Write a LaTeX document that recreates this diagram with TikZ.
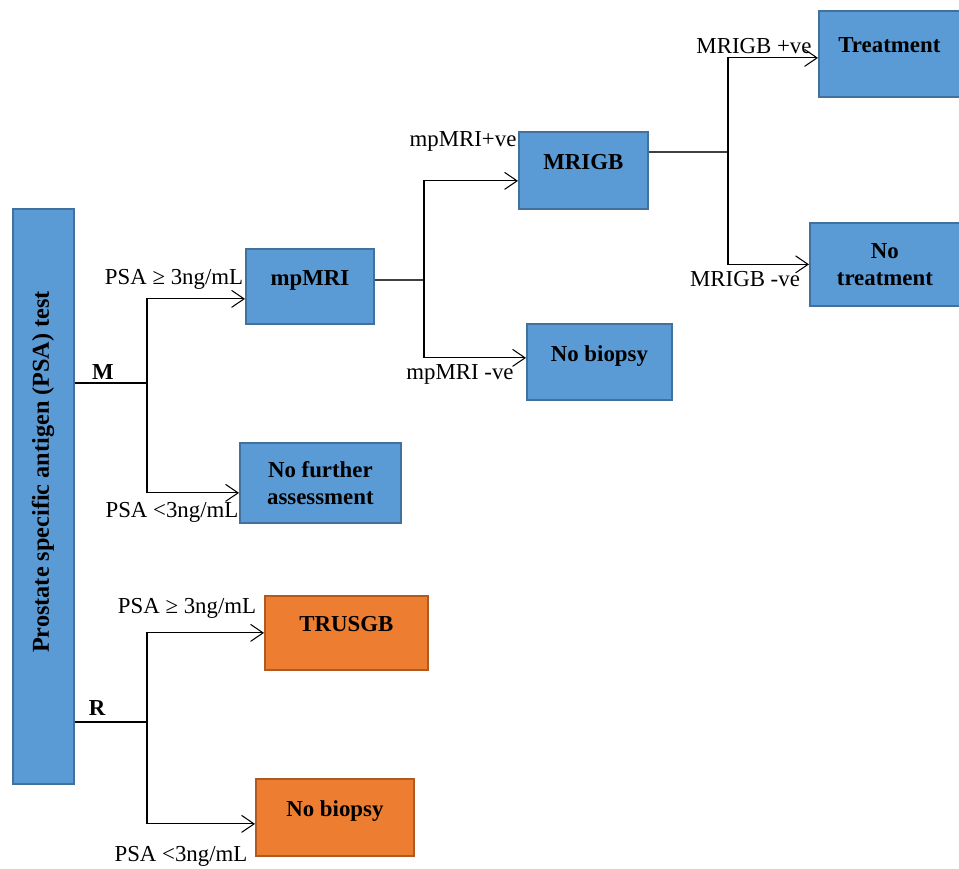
\documentclass[tikz,border=0pt]{standalone}
\usepackage{fontspec}
\setmainfont{Liberation Serif}
\usetikzlibrary{arrows.meta}
\definecolor{boxblue}{HTML}{5B9BD5}
\definecolor{edgeblue}{HTML}{41719C}
\definecolor{boxorange}{HTML}{ED7D31}
\definecolor{edgeorange}{HTML}{AE5A21}
\begin{document}
\begin{tikzpicture}[
	font=\fontsize{13}{15.5}\selectfont,
	bluebox/.style={draw=edgeblue,fill=boxblue,line width=1pt,anchor=north west,align=center,font=\fontsize{13}{15.5}\selectfont\bfseries},
	orangebox/.style={bluebox,draw=edgeorange,fill=boxorange},
	lift/.style={text depth=0.35cm},
	arr/.style={-{Straight Barb[length=2.5mm,width=3.4mm]},line width=0.6pt},
	plain/.style={line width=0.6pt},
	twin/.style={line width=1.4pt,black!75}]
				\useasboundingbox (0,0) rectangle (19.18,-17.36);
				\node[bluebox,minimum width=1.22cm,minimum height=11.5cm] (psa) at (0.24,-4.16) {};
				\node[rotate=90,font=\fontsize{13.8}{16}\selectfont\bfseries] (psatext) at (0.86,-9.44) {Prostate specific antigen (PSA) test};
				\node[bluebox,lift,minimum width=2.56cm,minimum height=1.5cm] (mpmri) at (4.90,-4.96) {mpMRI};
				\node[bluebox,minimum width=3.22cm,minimum height=1.6cm] (nofurther) at (4.78,-8.84) {No further\\assessment};
				\node[bluebox,lift,minimum width=2.58cm,minimum height=1.54cm] (mrigb) at (10.36,-2.62) {MRIGB};
				\node[bluebox,lift,minimum width=2.9cm,minimum height=1.52cm] (nobiopsym) at (10.52,-6.46) {No biopsy};
				\node[bluebox,lift,minimum width=2.82cm,minimum height=1.72cm] (treat) at (16.36,-0.20) {Treatment};
				\node[bluebox,minimum width=3.0cm,minimum height=1.66cm] (notreat) at (16.18,-4.44) {No\\treatment};
				\node[orangebox,lift,minimum width=3.26cm,minimum height=1.48cm] (trusgb) at (5.28,-11.90) {TRUSGB};
				\node[orangebox,lift,minimum width=3.16cm,minimum height=1.54cm] (nobiopsyr) at (5.10,-15.56) {No biopsy};
				\coordinate (jm) at (2.94,-7.66);
				\coordinate (jr) at (2.94,-14.44);
				\coordinate (jmp) at (8.48,-5.60);
				\coordinate (jgb) at (14.56,-3.04);
				\draw[plain] (jm -| psa.east) -- (jm);
				\draw[arr] (jm) |- ([yshift=-0.25cm]mpmri.west);
				\draw[arr] (jm) |- ([yshift=-0.2cm]nofurther.west);
				\draw[plain] (jr -| psa.east) -- (jr);
				\draw[arr] (jr) |- (trusgb.west);
				\draw[arr] (jr) |- ([yshift=-0.13cm]nobiopsyr.west);
				\draw[twin] (mpmri.east |- jmp) -- (jmp);
				\draw[arr] (jmp) |- ([yshift=-0.21cm]mrigb.west);
				\draw[arr] (jmp) |- ([yshift=0.08cm]nobiopsym.west);
				\draw[twin] (mrigb.east |- jgb) -- (jgb);
				\draw[arr] (jgb) |- ([yshift=-0.08cm]treat.west);
				\draw[arr] (jgb) |- (notreat.west);
				\node[font=\fontsize{13}{15.5}\selectfont\bfseries] (lblm) at (2.06,-7.44) {M};
				\node[font=\fontsize{13}{15.5}\selectfont\bfseries] (lblr) at (1.94,-14.16) {R};
				\node (mhigh) at (3.48,-5.58) {PSA ≥ 3ng/mL};
				\node (mlow) at (3.44,-10.24) {PSA <3ng/mL};
				\node (rhigh) at (3.74,-12.16) {PSA ≥ 3ng/mL};
				\node (rlow) at (3.62,-17.12) {PSA <3ng/mL};
				\node (mppos) at (9.26,-2.82) {mpMRI+ve};
				\node (mpneg) at (9.20,-7.48) {mpMRI -ve};
				\node (gbpos) at (15.08,-0.92) {MRIGB +ve};
				\node (gbneg) at (14.90,-5.58) {MRIGB -ve};
			\end{tikzpicture}
\end{document}
